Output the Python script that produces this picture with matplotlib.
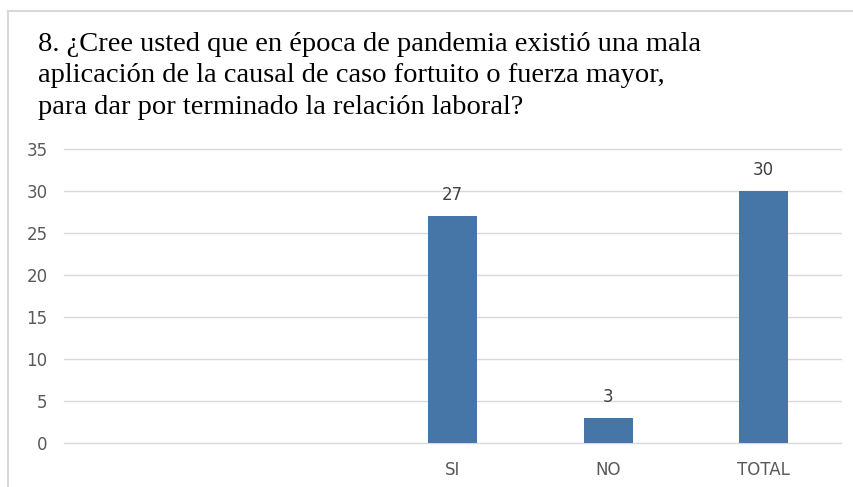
import matplotlib.pyplot as plt
from matplotlib.lines import Line2D

# Datos
categorias = ['', ' ', 'SI', 'NO', 'TOTAL']
valores = [0, 0, 27, 3, 30]
etiquetas = ['', '', '27', '3', '30']
yticks = [0, 5, 10, 15, 20, 25, 30, 35]

titulo = ('8. ¿Cree usted que en época de pandemia existió una mala\n'
          'aplicación de la causal de caso fortuito o fuerza mayor,\n'
          'para dar por terminado la relación laboral?')

fig = plt.figure(figsize=(8.54, 4.87), dpi=100)
ax = fig.add_axes([0.075, 0.0903, 0.910, 0.6037])

x = list(range(len(categorias)))
barras = ax.bar(x, valores, width=0.315, color='#4676A8', zorder=3)
for b, et in zip(barras, etiquetas):
    if et:
        ax.text(b.get_x() + b.get_width() / 2, b.get_height() + 1.4, et,
                ha='center', va='bottom', fontsize=12, color='#404040')

ax.set_xlim(-0.5, len(categorias) - 0.5)
ax.set_ylim(0, 35)
ax.set_yticks(yticks)
ax.set_xticks(x)
ax.set_xticklabels(categorias)
ax.grid(axis='y', color='#D9D9D9', linewidth=1, zorder=0)
for gl in ax.get_ygridlines():
    gl.set_clip_on(False)
for s in ax.spines.values():
    s.set_visible(False)
ax.tick_params(length=0, labelsize=12, colors='#595959')
ax.tick_params(axis='y', pad=12)
ax.tick_params(axis='x', pad=13)

# Título
fig.text(0.044, 0.935, titulo, ha='left', va='top', fontsize=20.5,
         family='Liberation Serif', color='black', linespacing=1.36)

# Borde del gráfico
fig.add_artist(Line2D([8 / 854, 8 / 854], [0, 1 - 11 / 487],
                      transform=fig.transFigure, color='#D9D9D9', lw=1.5))
fig.add_artist(Line2D([8 / 854, 1], [1 - 11 / 487, 1 - 11 / 487],
                      transform=fig.transFigure, color='#D9D9D9', lw=1.5))

fig.savefig('out.png', dpi=100)
